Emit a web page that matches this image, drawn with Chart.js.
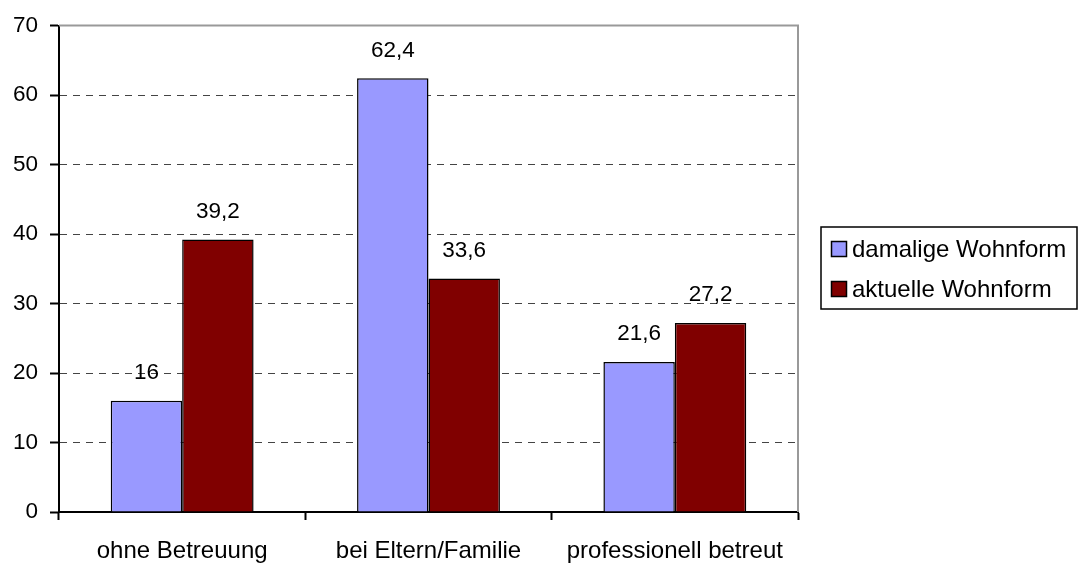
<!DOCTYPE html>
<html><head><meta charset="utf-8">
<script src="https://cdn.jsdelivr.net/npm/chart.js@4/dist/chart.umd.min.js"></script>
<style>html,body{margin:0;padding:0;background:#fff}#wrap{width:1080px;height:563px}</style>
</head><body><div id="wrap"><canvas id="c"></canvas></div>
<script>
const categories = ['ohne Betreuung', 'bei Eltern/Familie', 'professionell betreut'];
const damalige = [16, 62.4, 21.6];
const aktuelle = [39.2, 33.6, 27.2];
const seriesNames = ['damalige Wohnform', 'aktuelle Wohnform'];
const seriesColors = ['#9999FF', '#800000'];

const FONT = "'Liberation Sans', Arial, sans-serif";
const FS_NUM = 22.5;
const FS_TXT = 24;

const labelPlugin = {
  id: 'labels',
  afterDatasetsDraw(chart) {
    const ctx = chart.ctx;
    ctx.save();
    ctx.font = FS_NUM + 'px ' + FONT;
    ctx.fillStyle = '#000';
    ctx.textAlign = 'center';
    ctx.textBaseline = 'middle';
    chart.data.datasets.forEach((ds, i) => {
      chart.getDatasetMeta(i).data.forEach((bar, j) => {
        ctx.fillText(String(ds.data[j]).replace('.', ','), bar.x, bar.y - 28);
      });
    });
    ctx.restore();
  }
};

const borderPlugin = {
  id: 'plotBorder',
  beforeDatasetsDraw(chart) {
    const {ctx, chartArea: a} = chart;
    ctx.save();
    ctx.strokeStyle = '#999';
    ctx.lineWidth = 2;
    ctx.beginPath();
    ctx.moveTo(a.left, a.top);
    ctx.lineTo(a.right, a.top);
    ctx.lineTo(a.right, a.bottom);
    ctx.stroke();
    ctx.restore();
  }
};

const legendPlugin = {
  id: 'boxLegend',
  afterDraw(chart) {
    const ctx = chart.ctx;
    ctx.save();
    ctx.strokeStyle = '#000';
    ctx.lineWidth = 1.5;
    ctx.strokeRect(821, 227, 256, 82);
    ctx.font = FS_TXT + 'px ' + FONT;
    ctx.textBaseline = 'middle';
    ctx.textAlign = 'left';
    chart.data.datasets.forEach((ds, i) => {
      const cy = 249 + i * 40;
      ctx.fillStyle = ds.backgroundColor;
      ctx.fillRect(831, cy - 8, 16, 16);
      ctx.lineWidth = 1.5;
      ctx.strokeRect(831.5, cy - 7.5, 15, 15);
      ctx.fillStyle = '#000';
      ctx.fillText(ds.label, 852, cy + 1);
    });
    ctx.restore();
  }
};

new Chart(document.getElementById('c'), {
  type: 'bar',
  data: {
    labels: categories,
    datasets: [
      { label: seriesNames[0], data: damalige, backgroundColor: seriesColors[0], borderColor: '#000', borderWidth: 1.5 },
      { label: seriesNames[1], data: aktuelle, backgroundColor: seriesColors[1], borderColor: '#000', borderWidth: 1.5 }
    ]
  },
  options: {
    responsive: true,
    maintainAspectRatio: false,
    animation: false,
    events: [],
    layout: { padding: { left: 0, top: 24, right: 282, bottom: 0 } },
    datasets: { bar: { barPercentage: 1, categoryPercentage: 0.58 } },
    plugins: { legend: { display: false }, tooltip: { enabled: false } },
    scales: {
      x: {
        grid: { offset: true, drawOnChartArea: false, tickLength: 8, tickColor: '#000', tickWidth: 2 },
        border: { color: '#000', width: 2 },
        ticks: { color: '#000', font: { family: FONT, size: FS_TXT }, padding: 17, maxRotation: 0 },
        afterFit(s) { s.height = 51; }
      },
      y: {
        min: 0, max: 70,
        ticks: { stepSize: 10, color: '#000', font: { family: FONT, size: FS_NUM }, padding: 12 },
        grid: {
          color: (c) => c.tick && (c.tick.value === 70 || c.tick.value === 0) ? 'rgba(0,0,0,0)' : '#444',
          tickColor: '#000', tickLength: 9, tickWidth: 2, lineWidth: 1
        },
        border: { color: '#000', width: 2, dash: [7, 6] },
        afterFit(s) { s.width = 59; }
      }
    }
  },
  plugins: [labelPlugin, borderPlugin, legendPlugin]
});
</script></body></html>
